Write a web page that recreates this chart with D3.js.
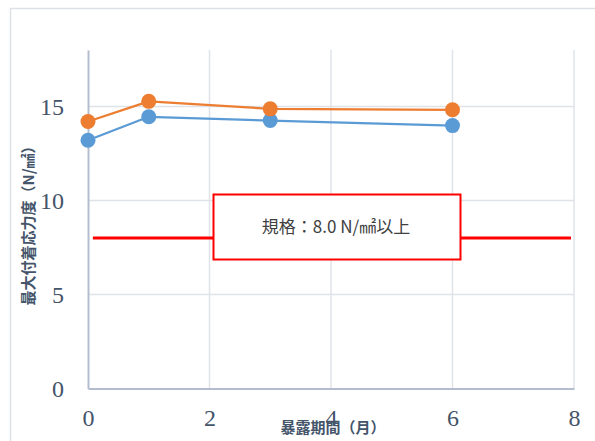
<!DOCTYPE html>
<html>
<head>
<meta charset="utf-8">
<script src="https://cdn.jsdelivr.net/npm/d3@7"></script>
<style>
  html, body { margin: 0; padding: 0; background: #ffffff; }
  svg { display: block; }
</style>
</head>
<body>
<svg id="chart" width="595" height="441"></svg>
<script>
// Exposure period (months) at which the samples were tested
const months = [0, 1, 3, 6];
// Maximum bond stress (N/mm²) for the two specimen series
const seriesA = [13.2, 14.45, 14.25, 13.98];   // blue
const seriesB = [14.2, 15.27, 14.87, 14.82];   // orange
// Axis ticks
const xTicks = [0, 2, 4, 6, 8];
const yTicks = [0, 5, 10, 15];
// Required minimum and the span of its reference line (months)
const specValue = 8.0;
const specSpan = [0.08, 7.95];
const specText = "規格：8.0 N/㎟以上";
const xTitle = "暴露期間（月）";
const yTitle = "最大付着応力度（N/㎟）";

const svg = d3.select("#chart");
const W = 595, H = 441;
const plot = { left: 88, right: 574, top: 50, bottom: 388.5 };

const x = d3.scaleLinear().domain([0, 8]).range([plot.left, plot.right]);
const y = d3.scaleLinear().domain([0, 18]).range([plot.bottom, plot.top]);

const axisColor = "#b3bdcf";
const gridColor = "#dfe3e8";
const textColor = "#44546a";

// Chart area frame
svg.append("path")
  .attr("d", `M10.5,${H + 2} V8.5 H${W + 2}`)
  .attr("fill", "none")
  .attr("stroke", "#dde1e7")
  .attr("stroke-width", 1.5);

// Grid lines
svg.append("g")
  .selectAll("line.vg")
  .data(xTicks.filter(d => d > 0))
  .join("line")
  .attr("x1", d => x(d)).attr("x2", d => x(d))
  .attr("y1", y(18)).attr("y2", y(0))
  .attr("stroke", gridColor).attr("stroke-width", 1.5);

svg.append("g")
  .selectAll("line.hg")
  .data(yTicks.filter(d => d > 0))
  .join("line")
  .attr("x1", x(0)).attr("x2", x(8))
  .attr("y1", d => y(d)).attr("y2", d => y(d))
  .attr("stroke", gridColor).attr("stroke-width", 1.5);

// Axes
const xAxis = d3.axisBottom(x).tickValues(xTicks).tickSize(0).tickPadding(20);
const yAxis = d3.axisLeft(y).tickValues(yTicks).tickSize(0).tickPadding(24);

const gx = svg.append("g").attr("transform", `translate(0,${plot.bottom})`).call(xAxis);
const gy = svg.append("g").attr("transform", `translate(${plot.left},0)`).call(yAxis);

[gx, gy].forEach(g => {
  g.select(".domain").attr("stroke", axisColor).attr("stroke-width", 2);
  g.selectAll("text")
    .attr("fill", textColor)
    .style("font-family", "'Liberation Serif', 'DejaVu Serif', serif")
    .style("font-size", "24px");
});
gy.selectAll("text").attr("dy", "0.34em");
gx.selectAll("text").attr("dy", "0.71em");

// Reference line for the required value
svg.append("line")
  .attr("x1", x(specSpan[0])).attr("x2", x(specSpan[1]))
  .attr("y1", y(specValue)).attr("y2", y(specValue))
  .attr("stroke", "#ff0000").attr("stroke-width", 3);

// Annotation box
const box = { x: 213.5, y: 194.5, w: 247, h: 65 };
svg.append("rect")
  .attr("x", box.x).attr("y", box.y)
  .attr("width", box.w).attr("height", box.h)
  .attr("fill", "#ffffff")
  .attr("stroke", "#ff0000").attr("stroke-width", 2);
svg.append("text")
  .attr("x", box.x + box.w / 2 - 1).attr("y", box.y + box.h / 2 + 1)
  .attr("text-anchor", "middle")
  .attr("dominant-baseline", "middle")
  .attr("fill", "#404040")
  .style("font-family", "'Noto Sans CJK JP', 'Noto Sans', sans-serif")
  .style("font-size", "17px")
  .text(specText);

// Data series
const line = d3.line().x(d => x(d[0])).y(d => y(d[1]));
const series = [
  { values: seriesA, color: "#5b9bd5" },
  { values: seriesB, color: "#ed7d31" }
];
series.forEach(s => {
  const pts = months.map((m, i) => [m, s.values[i]]);
  svg.append("path")
    .datum(pts)
    .attr("d", line)
    .attr("fill", "none")
    .attr("stroke", s.color)
    .attr("stroke-width", 2.25)
    .attr("stroke-linejoin", "round");
  svg.append("g")
    .selectAll("circle")
    .data(pts)
    .join("circle")
    .attr("cx", d => x(d[0]))
    .attr("cy", d => y(d[1]))
    .attr("r", 7.5)
    .attr("fill", s.color);
});

// Axis titles
svg.append("text")
  .attr("x", 333).attr("y", 433)
  .attr("text-anchor", "middle")
  .attr("fill", textColor)
  .style("font-family", "'Noto Sans CJK JP', sans-serif")
  .style("font-weight", "bold")
  .style("font-size", "15px")
  .text(xTitle);

svg.append("text")
  .attr("transform", `translate(34,222) rotate(-90)`)
  .attr("text-anchor", "middle")
  .attr("fill", textColor)
  .style("font-family", "'Noto Sans CJK JP', sans-serif")
  .style("font-weight", "bold")
  .style("font-size", "15px")
  .text(yTitle);
</script>
</body>
</html>
